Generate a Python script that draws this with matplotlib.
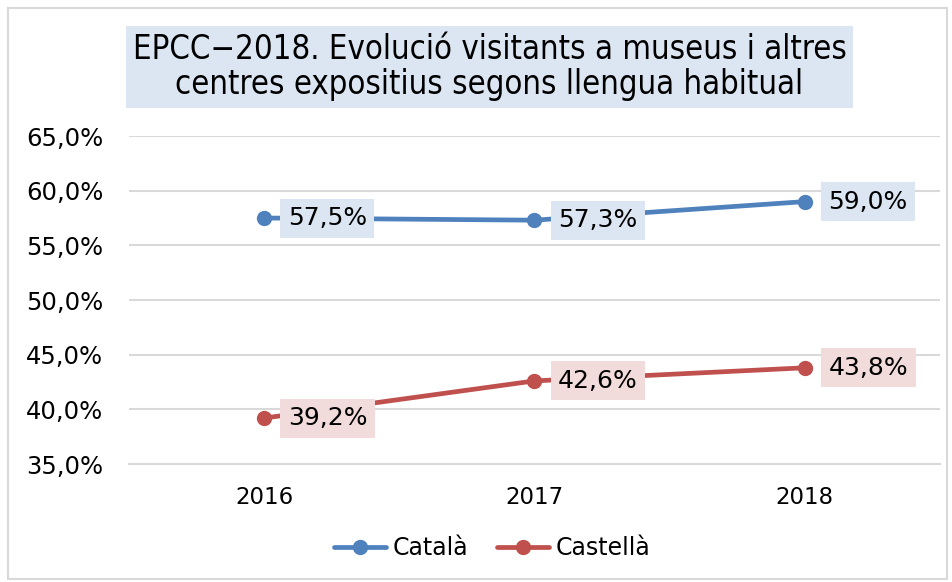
import matplotlib
matplotlib.use('agg')
import matplotlib.pyplot as plt
from matplotlib.patches import Rectangle

years = ['2016', '2017', '2018']
catala = [57.5, 57.3, 59.0]
castella = [39.2, 42.6, 43.8]
yticks = [35, 40, 45, 50, 55, 60, 65]

blue = '#4F81BD'
red = '#C0504D'
blue_bg = '#DCE6F2'
red_bg = '#F2DCDB'

plt.rcParams['font.family'] = ['DejaVu Sans']

fig = plt.figure(figsize=(9.52, 5.82), dpi=100)
# outer frame
fig.patches.append(Rectangle((8 / 952, 3 / 582), 939 / 952, 571 / 582, transform=fig.transFigure,
                             fill=False, edgecolor='#D9D9D9', linewidth=1.5))

ax = fig.add_axes([129 / 952, 1 - 464 / 582, 811 / 952, 328 / 582])
x = list(range(len(years)))

for vals, col, bg, name in [(catala, blue, blue_bg, 'Català'), (castella, red, red_bg, 'Castellà')]:
    ax.plot(x, vals, color=col, linewidth=3.4, marker='o', markersize=10, label=name,
            solid_capstyle='round', zorder=3)
    for xi, v in zip(x, vals):
        ax.annotate(('%.1f%%' % v).replace('.', ','), (xi, v), xytext=(17, 0),
                    textcoords='offset points', ha='left', va='center', fontsize=18,
                    bbox=dict(boxstyle='square,pad=0.3', facecolor=bg, edgecolor='none'),
                    zorder=4)

ax.set_xlim(-0.5, 2.5)
ax.set_ylim(35, 65)
ax.set_xticks(x)
ax.set_xticklabels(years, fontsize=16.5)
ax.set_yticks(yticks)
ax.set_yticklabels([('%.1f%%' % t).replace('.', ',') for t in yticks], fontsize=17.5)
ax.tick_params(length=0, pad=18.5)
ax.tick_params(axis='x', pad=16)
ax.grid(axis='y', color='#D9D9D9', linewidth=1.5)
ax.set_axisbelow(True)
for s in ['top', 'right', 'left']:
    ax.spines[s].set_visible(False)
ax.spines['bottom'].set_color('#D9D9D9')
ax.spines['bottom'].set_linewidth(1.5)

fig.text(489.5 / 952, 1 - 67 / 582,
         'EPCC\u22122018. Evolució visitants a museus i altres\ncentres expositius segons llengua habitual',
         ha='center', va='center', fontsize=23.6, linespacing=1.1,
         family='DejaVu Sans', fontstretch='condensed',
         bbox=dict(boxstyle='square,pad=0.2', facecolor=blue_bg, edgecolor='none'))

fig.legend(loc='center', bbox_to_anchor=(492 / 952, 1 - 548 / 582), ncol=2, frameon=False,
           fontsize=17, handlelength=2.2, columnspacing=1.2, handletextpad=0.3)

plt.savefig('out.png', dpi=100)
